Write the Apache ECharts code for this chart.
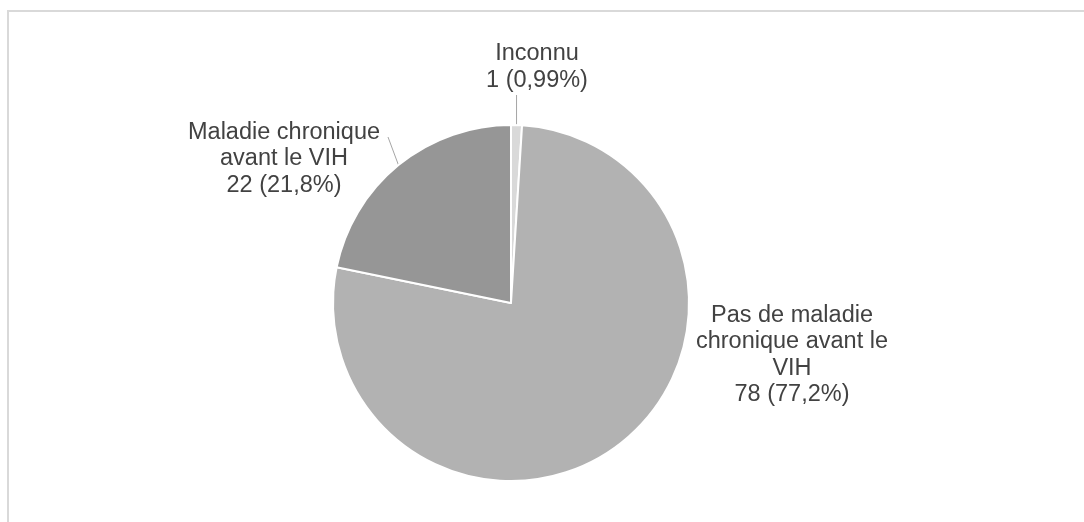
<!DOCTYPE html>
<html>
<head>
<meta charset="utf-8">
<script src="https://cdn.jsdelivr.net/npm/echarts@6/dist/echarts.min.js"></script>
<style>
  html, body { margin: 0; padding: 0; background: #ffffff; }
  #chart { width: 1084px; height: 522px; }
</style>
</head>
<body>
<div id="chart"></div>
<script>
// Categories, in clockwise order starting at 12 o'clock
const categories = [
  'Inconnu',
  'Pas de maladie\nchronique avant le\nVIH',
  'Maladie chronique\navant le VIH'
];
// Number of patients in each category
const counts = [1, 78, 22];
// Slice fills
const sliceColors = ['#d9d9d9', '#b2b2b2', '#969696'];

const total = counts.reduce((a, b) => a + b, 0);

// Percentage written the French way, 3 significant digits
function frPercent(v) {
  const p = Number((v / total * 100).toPrecision(3));
  return String(p).replace('.', ',') + '%';
}

// Where each label block sits (center x, middle y) and where its guide line ends
const labelPlacement = [
  { x: 537, y: 67, lineEnd: [null, 95] },
  { x: 792, y: 355, lineEnd: null },
  { x: 284, y: 159, lineEnd: [388, 137] }
];

const chart = echarts.init(document.getElementById('chart'), null, { renderer: 'canvas' });

chart.setOption({
  backgroundColor: '#ffffff',
  animation: false,
  graphic: [{
    type: 'rect',
    shape: { x: 8, y: 11, width: 1400, height: 800 },
    style: { fill: 'none', stroke: '#d9d9d9', lineWidth: 2 },
    silent: true
  }],
  series: [{
    type: 'pie',
    center: [511, 303],
    radius: 178,
    startAngle: 90,
    clockwise: true,
    avoidLabelOverlap: false,
    itemStyle: { borderColor: '#ffffff', borderWidth: 2 },
    label: {
      show: true,
      position: 'outside',
      fontFamily: 'Liberation Sans, Arial, sans-serif',
      fontSize: 23.5,
      lineHeight: 26.5,
      color: '#424242',
      align: 'center',
      formatter: p => p.name + '\n' + p.value + ' (' + frPercent(p.value) + ')'
    },
    labelLine: {
      show: true,
      smooth: false,
      lineStyle: { color: '#a6a6a6', width: 1 }
    },
    labelLayout: function (params) {
      const place = labelPlacement[params.dataIndex];
      const out = {
        x: place.x,
        y: place.y,
        align: 'center',
        verticalAlign: 'middle'
      };
      if (place.lineEnd && params.labelLinePoints) {
        const start = params.labelLinePoints[0];
        // a null x keeps the guide line vertical
        const end = [place.lineEnd[0] === null ? start[0] : place.lineEnd[0], place.lineEnd[1]];
        out.labelLinePoints = [start, end, end];
      }
      return out;
    },
    data: categories.map((name, i) => ({
      name: name,
      value: counts[i],
      itemStyle: { color: sliceColors[i] },
      labelLine: { show: labelPlacement[i].lineEnd !== null }
    })),
    emphasis: { disabled: true }
  }]
});
</script>
</body>
</html>
